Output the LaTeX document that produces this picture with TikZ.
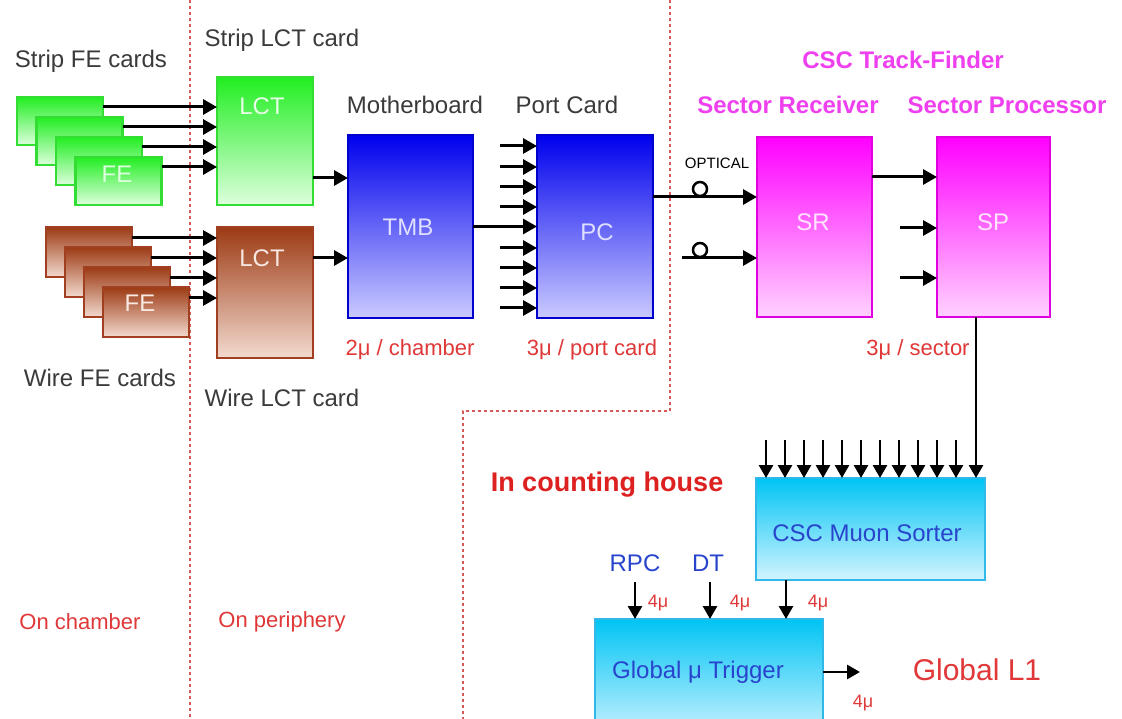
\documentclass[tikz,border=0pt]{standalone}
\usepackage{fontspec}
\setmainfont{Liberation Sans}
\usetikzlibrary{arrows.meta,calc}
\definecolor{grnTop}{HTML}{22EE22}
\definecolor{grnBot}{HTML}{DDFFDD}
\definecolor{grnLine}{HTML}{33DD33}
\definecolor{brnTop}{HTML}{9C3A14}
\definecolor{brnBot}{HTML}{F3DACE}
\definecolor{brnLine}{HTML}{A04020}
\definecolor{bluTop}{HTML}{0000EE}
\definecolor{bluBot}{HTML}{CACAFF}
\definecolor{bluLine}{HTML}{0000CC}
\definecolor{magTop}{HTML}{FF00FF}
\definecolor{magBot}{HTML}{FFD2FF}
\definecolor{magLine}{HTML}{E000E0}
\definecolor{cyTop}{HTML}{00C4F4}
\definecolor{cyBot}{HTML}{D2F4FF}
\definecolor{cyLine}{HTML}{30B8E8}
\definecolor{txtGray}{HTML}{3A3A3A}
\definecolor{txtRed}{HTML}{E03838}
\definecolor{txtDRed}{HTML}{DD2020}
\definecolor{txtMag}{HTML}{EE40EE}
\definecolor{txtBlue}{HTML}{2844CC}
\definecolor{dashRed}{HTML}{D85858}
\begin{document}
\begin{tikzpicture}[x=1pt,y=-1pt,
  every node/.style={inner sep=0pt, outer sep=0pt},
  box/.style={draw, line width=2.5pt, rectangle, inner sep=0pt, outer sep=0pt},
  fegrn/.style={box, draw=grnLine, top color=grnTop, bottom color=grnBot, minimum width=86pt, minimum height=48pt},
  febrn/.style={box, draw=brnLine, top color=brnTop, bottom color=brnBot, minimum width=86pt, minimum height=50pt},
  grnbox/.style={box, draw=grnLine, top color=grnTop, bottom color=grnBot},
  brnbox/.style={box, draw=brnLine, top color=brnTop, bottom color=brnBot},
  blubox/.style={box, draw=bluLine, top color=bluTop, bottom color=bluBot},
  magbox/.style={box, draw=magLine, top color=magTop, bottom color=magBot},
  cybox/.style={box, draw=cyLine, top color=cyTop, bottom color=cyBot},
  arr/.style={line width=3pt, -{Triangle[length=14pt,width=15pt]}},
  arrs/.style={line width=2.8pt, -{Triangle[length=13pt,width=14pt]}},
  lbl/.style={font=\fontsize{24}{28}\selectfont, text=txtGray},
  redlbl/.style={font=\fontsize{22}{26}\selectfont, text=txtRed},
  smred/.style={font=\fontsize{18}{20}\selectfont, text=txtRed},
  maglbl/.style={font=\bfseries\fontsize{24}{28}\selectfont, text=txtMag},
  inbox/.style={font=\fontsize{24}{28}\selectfont},
  bluelbl/.style={font=\fontsize{24}{28}\selectfont, text=txtBlue},
  sepline/.style={draw=dashRed, line width=1.6pt, dash pattern=on 3pt off 3pt}
]
\useasboundingbox (0,0) rectangle (1122,719);
\fill[white] (0,0) rectangle (1122,719);

% region separators
\coordinate (d1t) at (190,0);
\coordinate (d1b) at (190,719);
\draw[sepline] (d1t) -- (d1b);
\coordinate (d2t) at (670,0);
\coordinate (d2m) at (670,411);
\coordinate (d2c) at (463,411);
\coordinate (d2b) at (463,719);
\draw[sepline] (d2t) -- (d2m) -- (d2c) -- (d2b);

% strip FE cards
\node[fegrn] (c1) at (60,121) {};
\node[fegrn] (c2) at (79.5,141) {};
\node[fegrn] (c3) at (99,161) {};
\node[fegrn] (c4) at (118.5,181) {};
\node[inbox, text=grnBot] (fe1) at (117,174) {FE};
% wire FE cards
\node[febrn] (b1) at (89,252) {};
\node[febrn] (b2) at (108,272) {};
\node[febrn] (b3) at (127,292) {};
\node[febrn] (b4) at (146,312) {};
\node[inbox, text=brnBot!60!white] (fe2) at (140,303) {FE};

% LCT cards
\node[grnbox, minimum width=96pt, minimum height=128pt] (slct) at (265,141) {};
\node[inbox, text=grnBot!70!white] (slctt) at (262,106) {LCT};
\node[brnbox, minimum width=96pt, minimum height=131pt] (wlct) at (265,292.5) {};
\node[inbox, text=brnBot!60!white] (wlctt) at (262,258) {LCT};

% TMB and PC
\node[blubox, minimum width=125pt, minimum height=183pt] (tmb) at (410.5,226.5) {};
\node[inbox, text=bluBot!60!white] (tmbt) at (408,227) {TMB};
\node[blubox, minimum width=116pt, minimum height=183pt] (pc) at (595,226.5) {};
\node[inbox, text=bluBot!60!white] (pct) at (597,232) {PC};

% SR and SP
\node[magbox, minimum width=115pt, minimum height=180pt] (sr) at (814.5,227) {};
\node[inbox, text=magBot!60!white] (srt) at (813,222) {SR};
\node[magbox, minimum width=113pt, minimum height=180pt] (sp) at (993.5,227) {};
\node[inbox, text=magBot!60!white] (spt) at (993,222) {SP};

% Sorter and GMT
\node[cybox, minimum width=229pt, minimum height=102pt] (sorter) at (870.5,529) {};
\node[bluelbl] (sortt) at (867,533) {CSC Muon Sorter};
\node[cybox, minimum width=228pt, minimum height=121pt] (gmt) at (709,679.5) {};
\node[bluelbl] (gmtt) at (698,672) {Global μ Trigger};

% FE -> LCT arrows
\foreach \c in {1,2,3,4} {
  \coordinate (g\c) at ($(c\c.north east)+(0,10)$);
  \draw[arr] (g\c) -- (g\c -| slct.west);
  \coordinate (w\c) at ($(b\c.north east)+(0,11)$);
  \draw[arr] (w\c) -- (w\c -| wlct.west);
}

% LCT -> TMB
\coordinate (s2t) at ($(slct.south east)+(0,-27)$);
\draw[arr] (s2t) -- (s2t -| tmb.west);
\coordinate (w2t) at ($(wlct.north east)+(0,31)$);
\draw[arr] (w2t) -- (w2t -| tmb.west);

% TMB -> PC and other PC inputs
\draw[arr] (tmb.east) -- (pc.west);
\foreach \y [count=\i] in {146,167,187,207,248,268,288,308} {
  \coordinate (pin\i) at (500,\y);
  \draw[arr] (pin\i) -- (pin\i -| pc.west);
}

% PC -> SR (optical)
\coordinate (o1) at ($(pc.north east)+(0,62)$);
\draw[arr] (o1) -- (o1 -| sr.west);
\coordinate (o2) at (682,258);
\draw[arr] (o2) -- (o2 -| sr.west);
\node[circle, draw, line width=2.5pt, minimum size=14pt, fill=white] (opt1) at (700,189) {};
\node[circle, draw, line width=2.5pt, minimum size=14pt, fill=white] (opt2) at (700,250) {};
\node[font=\fontsize{15}{17}\selectfont, text=black] (optl) at (717,163) {OPTICAL};

% SR -> SP and others
\coordinate (r2p) at ($(sr.north east)+(0,40)$);
\draw[arr] (r2p) -- (r2p -| sp.west);
\coordinate (sp2) at (900,228);
\draw[arr] (sp2) -- (sp2 -| sp.west);
\coordinate (sp3) at (900,278);
\draw[arr] (sp3) -- (sp3 -| sp.west);

% SP -> Sorter and other sorter inputs
\coordinate (spd) at (976,317);
\draw[arrs] (spd) -- (spd |- sorter.north);
\foreach \i in {0,...,10} {
  \coordinate (si\i) at (766+19*\i,440);
  \draw[arrs] (si\i) -- (si\i |- sorter.north);
}

% Sorter -> GMT, RPC, DT
\coordinate (s2g) at (786,580);
\draw[arrs] (s2g) -- (s2g |- gmt.north);
\node[bluelbl] (rpc) at (635,563) {RPC};
\node[bluelbl] (dt) at (708,563) {DT};
\coordinate (rpcA) at (635,582);
\draw[arrs] (rpcA) -- (rpcA |- gmt.north);
\coordinate (dtA) at (710,582);
\draw[arrs] (dtA) -- (dtA |- gmt.north);
\node[smred] (m1) at (658,603) {4μ};
\node[smred] (m2) at (740,603) {4μ};
\node[smred] (m3) at (818,603) {4μ};

% GMT -> Global L1
\coordinate (gout) at (gmt.east |- 0,672);
\coordinate (gend) at (860,672);
\draw[arrs] (gout) -- (gend);
\node[smred] (m4) at (863,703) {4μ};
\node[font=\fontsize{30}{34}\selectfont, text=txtRed] (gl1) at (977,670) {Global L1};

% labels
\node[lbl] (l1) at (91,61) {Strip FE cards};
\node[lbl] (l2) at (282,40) {Strip LCT card};
\node[lbl] (l3) at (100,378) {Wire FE cards};
\node[lbl] (l4) at (282,398) {Wire LCT card};
\node[lbl] (l5) at (415,105) {Motherboard};
\node[lbl] (l6) at (567,105) {Port Card};
\node[maglbl] (l7) at (903,60) {CSC Track-Finder};
\node[maglbl] (l8) at (788,105) {Sector Receiver};
\node[maglbl] (l9) at (1007,105) {Sector Processor};
\node[redlbl] (r1) at (410,350) {2μ / chamber};
\node[redlbl] (r2) at (592,350) {3μ / port card};
\node[redlbl] (r3) at (918,350) {3μ / sector};
\node[redlbl] (r4) at (80,622) {On chamber};
\node[redlbl] (r5) at (282,622) {On periphery};
\node[font=\bfseries\fontsize{27}{30}\selectfont, text=txtDRed] (ich) at (607,485) {In counting house};
\end{tikzpicture}
\end{document}
